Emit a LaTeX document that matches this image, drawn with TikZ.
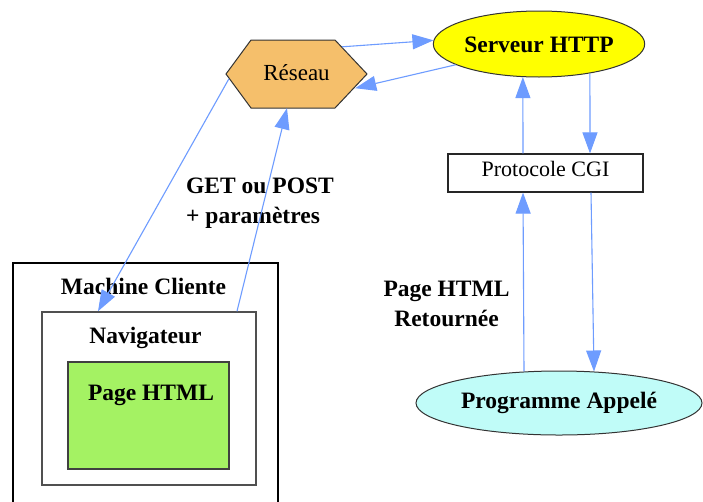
\documentclass[tikz,border=0pt]{standalone}
\usepackage{fontspec}
\setmainfont{Liberation Serif}
\usetikzlibrary{arrows.meta,shapes.geometric}
\definecolor{arrowblue}{HTML}{6E9CFF}
\definecolor{hexorange}{HTML}{F5BF6B}
\definecolor{srvyellow}{HTML}{FFFF00}
\definecolor{pagegreen}{HTML}{A4F263}
\definecolor{progcyan}{HTML}{C0FCF8}
\definecolor{boxgray}{HTML}{505050}
\begin{document}
\begin{tikzpicture}[x=1pt,y=-1pt,
  boldtxt/.style={font=\fontsize{23.5}{30}\selectfont\bfseries, inner sep=0pt},
  regtxt/.style={font=\fontsize{23}{28}\selectfont, inner sep=0pt},
  cgitxt/.style={font=\fontsize{22}{26}\selectfont, inner sep=0pt},
  arr/.style={draw=arrowblue, line width=1.1pt, -{Triangle[length=21pt,width=15pt]}},
  outerbox/.style={draw=black, line width=1.3pt, minimum width=265pt, minimum height=262pt, inner sep=0pt},
  innerbox/.style={draw=boxgray, line width=1.5pt, fill=white, minimum width=214pt, minimum height=173pt, inner sep=0pt},
  greenbox/.style={draw=boxgray!80!black, line width=1.3pt, fill=pagegreen, minimum width=161pt, minimum height=107pt, inner sep=0pt},
  hexstyle/.style={draw=black!80, line width=1pt, fill=hexorange},
  ellbox/.style={ellipse, draw=black!80, line width=1pt, inner sep=0pt}
]
\useasboundingbox (0,0) rectangle (703,501);
\clip (0,0) rectangle (703,501);
\fill[white] (0,0) rectangle (703,501);

% client side boxes
\node[outerbox] (machine) at (145.5,394) {};
\node[innerbox] (nav) at (149,398.5) {};
\node[greenbox] (page) at (148.5,415.5) {};
\node[boldtxt, anchor=base] (machinetxt) at (143.5,294) {Machine Cliente};
\node[boldtxt, anchor=base] (navtxt) at (145.5,343) {Navigateur};
\node[boldtxt, anchor=base] (pagetxt) at (151,400) {Page HTML};

% network hexagon
\path[hexstyle] (226,74) -- (251,40) -- (335,40) -- (367,74) -- (335,108) -- (251,108) -- cycle;
\node[regtxt, minimum width=141pt, minimum height=68pt, text height=16pt, text depth=4pt] (reseau) at (296.5,74) {Réseau};

% server
\node[ellbox, fill=srvyellow, minimum width=208pt, minimum height=66pt, boldtxt, text height=16pt, text depth=0pt] (serveur) at (539,44) {Serveur HTTP};

% CGI
\node[draw=black!85, line width=1.2pt, minimum width=195pt, minimum height=38pt, cgitxt, text height=15pt, text depth=8pt] (cgi) at (545.5,173) {Protocole CGI};

% program
\node[ellbox, fill=progcyan, minimum width=286pt, minimum height=64pt, boldtxt, text height=16pt, text depth=5pt] (programme) at (559,403) {Programme Appelé};

% labels
\node[boldtxt, align=left, anchor=west] (getlbl) at (186,202.8) {GET ou POST\\+ paramètres};
\node[boldtxt, align=center] (retlbl) at (446.5,304.2) {Page HTML\\Retournée};

% connectors
\draw[arr] ([xshift=-25pt,yshift=-7pt]reseau.north east) -- (serveur.178);
\draw[arr] (serveur.194) -- ([xshift=-12pt,yshift=20pt]reseau.south east);
\draw[arr] ([xshift=3pt,yshift=-5pt]reseau.west) -- ([xshift=-51pt]nav.north);
\draw[arr] ([xshift=88pt]nav.north) -- ([xshift=-9.5pt]reseau.south);
\draw[arr] ([xshift=-22.5pt]cgi.north) -- (serveur.244);
\draw[arr] (serveur.-30) -- ([xshift=44.5pt]cgi.north);
\draw[arr] ([xshift=45.5pt]cgi.south) -- (programme.42);
\draw[arr] (programme.138) -- ([xshift=-22.5pt]cgi.south);
\end{tikzpicture}
\end{document}
